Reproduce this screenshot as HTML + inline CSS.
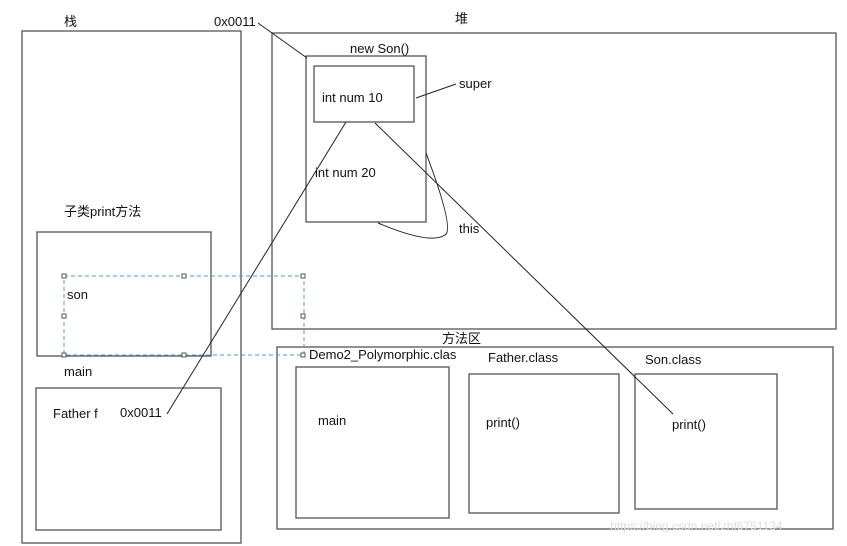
<!DOCTYPE html>
<html><head><meta charset="utf-8"><style>
html,body{margin:0;padding:0;background:#fff;}
svg{display:block;}
text{font-family:"Liberation Sans","Noto Sans CJK SC",sans-serif;font-size:13px;fill:#111;}
</style></head><body>
<svg width="847" height="546" viewBox="0 0 847 546" xmlns="http://www.w3.org/2000/svg">
<g fill="none" stroke="#555" stroke-width="1.3">
<rect x="22" y="31" width="219" height="512"/>
<rect x="272" y="33" width="564" height="296"/>
<rect x="306" y="56" width="120" height="166"/>
<rect x="314" y="66" width="100" height="56"/>
<rect x="37" y="232" width="174" height="124"/>
<rect x="36" y="388" width="185" height="142"/>
<rect x="277" y="347" width="556" height="182"/>
<rect x="296" y="367" width="153" height="151"/>
<rect x="469" y="374" width="150" height="139"/>
<rect x="635" y="374" width="142" height="135"/>
</g>
<g fill="none" stroke="#222" stroke-width="1">
<line x1="258" y1="23" x2="307" y2="58"/>
<line x1="346" y1="122" x2="167" y2="414"/>
<line x1="375" y1="123" x2="673" y2="414"/>
<line x1="416" y1="98" x2="456" y2="84"/>
<path d="M426,153 Q455,230 445,235 Q430,245 378,223"/>
</g>
<g fill="none" stroke="#4a9be8" stroke-width="1" stroke-dasharray="4,3">
<rect x="64" y="276" width="240" height="79"/>
</g>
<g fill="#fff" stroke="#555" stroke-width="1">
<rect x="62" y="274" width="4" height="4"/><rect x="182" y="274" width="4" height="4"/><rect x="301" y="274" width="4" height="4"/>
<rect x="62" y="314" width="4" height="4"/><rect x="301" y="314" width="4" height="4"/>
<rect x="62" y="353" width="4" height="4"/><rect x="182" y="353" width="4" height="4"/><rect x="301" y="353" width="4" height="4"/>
</g>
<text x="64" y="26">栈</text>
<text x="214" y="26">0x0011</text>
<text x="455" y="23">堆</text>
<text x="350" y="53">new Son()</text>
<text x="322" y="102">int num 10</text>
<text x="459" y="88">super</text>
<text x="315" y="177">int num 20</text>
<text x="459" y="233">this</text>
<text x="64" y="216">子类print方法</text>
<text x="67" y="299">son</text>
<text x="64" y="376">main</text>
<text x="53" y="418">Father f</text>
<text x="120" y="417">0x0011</text>
<text x="442" y="343">方法区</text>
<text x="309" y="359">Demo2_Polymorphic.clas</text>
<text x="488" y="362">Father.class</text>
<text x="645" y="364">Son.class</text>
<text x="318" y="425">main</text>
<text x="486" y="427">print()</text>
<text x="672" y="429">print()</text>
<text x="610" y="530" style="fill:#ddd;font-size:12px">https://blog.csdn.net/zhf6751134</text>
</svg>
</body></html>
